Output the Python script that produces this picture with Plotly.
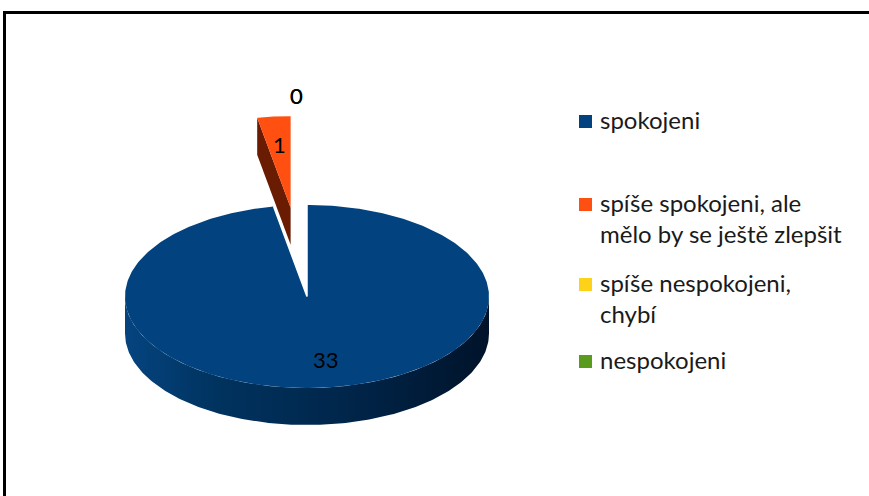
import numpy as np
import plotly.graph_objects as go

# ---- data ----
categories = ["spokojeni", "spíše spokojeni, ale mělo by se ještě zlepšit",
              "spíše nespokojeni, chybí", "nespokojeni"]
legend_labels = ["spokojeni", "spíše spokojeni, ale<br>mělo by se ještě zlepšit",
                 "spíše nespokojeni,<br>chybí", "nespokojeni"]
values = [33, 1, 0, 0]

# ---- style ----
top_colors = ["#02437F", "#FF5011", "#FFD21A", "#5A9B1E"]
wall_colors = ["#003A72", "#6A1C02", "#B08F00", "#3A6A12"]
explode = [0.0, 0.975, 0.0, 0.0]
label_r = [0.69, 0.69, 2.2, 2.2]
label_xshift = [7, 0, -11, -11]
DEPTH = 37 / 91.5
FONT = "Lato"
W, H = 869, 496
CX, CY, RX, RY = 307, 296.5, 182, 91.5  # pixel geometry of the pie

fig = go.Figure()

total = sum(values)
cum = np.cumsum([0] + values)
starts = 360.0 * cum[:-1] / total
ends = 360.0 * cum[1:] / total


def pt(theta_deg, ox=0.0, oy=0.0, r=1.0):
    t = np.radians(theta_deg)
    return ox + r * np.sin(t), oy + r * np.cos(t)


# back-to-front: exploded slices first (they sit at the back), then the big one
order = sorted(range(len(values)), key=lambda i: -explode[i])
for i in order:
    if values[i] <= 0:
        continue
    s, e = starts[i], ends[i]
    mid = (s + e) / 2
    ox, oy = pt(mid, r=explode[i])
    # front outer wall (visible part: 90..270 degrees)
    a0, a1 = max(s, 90), min(e, 270)
    if a1 > a0:
        th = np.linspace(a0, a1, 200)
        xs, ys = pt(th, ox, oy)
        wx = np.concatenate([xs, xs[::-1]])
        wy = np.concatenate([ys, ys[::-1] - DEPTH])
        fig.add_trace(go.Scatter(
            x=wx, y=wy, fill="toself", mode="lines", line=dict(width=0),
            fillcolor=wall_colors[i],
            fillgradient=dict(type="horizontal", colorscale=[
                [0, "#054480"], [0.25, "#00335f"], [0.6, "#00264b"], [1, "#00132a"]]),
            hoverinfo="skip", showlegend=False))
    # radial wall at the start edge (faces the viewer for the exploded slice)
    if explode[i] > 0:
        px, py = pt(s, ox, oy)
        fig.add_trace(go.Scatter(
            x=[ox, px, px, ox, ox], y=[oy, py, py - DEPTH, oy - DEPTH, oy],
            fill="toself", mode="lines", line=dict(width=0),
            fillcolor=wall_colors[i], hoverinfo="skip", showlegend=False))
    # top face
    th = np.linspace(s, e, 400)
    xs, ys = pt(th, ox, oy)
    fig.add_trace(go.Scatter(
        x=np.concatenate([[ox], xs, [ox]]), y=np.concatenate([[oy], ys, [oy]]),
        fill="toself", mode="lines", line=dict(width=0),
        fillcolor=top_colors[i], name=categories[i],
        hoverinfo="name", showlegend=False))
    if explode[i] == 0:
        p1 = pt(s, ox, oy)
        p2 = pt(e, ox, oy)
        fig.add_trace(go.Scatter(
            x=[p1[0], ox, p2[0]], y=[p1[1], oy, p2[1]], mode="lines",
            line=dict(color="white", width=1.5), hoverinfo="skip", showlegend=False))

# data labels
for i in range(len(values)):
    mid = (starts[i] + ends[i]) / 2
    ox, oy = pt(mid, r=explode[i])
    lx, ly = pt(mid, ox, oy, r=label_r[i])
    fig.add_annotation(x=lx, y=ly, text=str(values[i]), showarrow=False,
                       xshift=label_xshift[i],
                       font=dict(family=FONT, size=22, color="black"))

# legend (manual, to match the original spacing)
leg_y = [122, 205, 285, 362]
for i, lab in enumerate(legend_labels):
    yc = leg_y[i]
    fig.add_shape(type="rect", xref="paper", yref="paper",
                  x0=579 / W, x1=592 / W, y0=1 - (yc + 6) / H, y1=1 - (yc - 7) / H,
                  fillcolor=top_colors[i], line=dict(width=0))
    fig.add_annotation(xref="paper", yref="paper", x=598 / W, y=1 - (yc - 19) / H,
                       xanchor="left", yanchor="top", align="left", text=lab,
                       showarrow=False,
                       font=dict(family=FONT, size=24, color="#1a1a1a"))

# frame
fig.add_shape(type="rect", xref="paper", yref="paper",
              x0=4.5 / W, x1=1.05, y0=-0.05, y1=1 - 12.5 / H,
              line=dict(color="black", width=3), fillcolor="rgba(0,0,0,0)")

fig.update_layout(
    width=W, height=H, margin=dict(l=0, r=0, t=0, b=0),
    paper_bgcolor="white", plot_bgcolor="white",
    xaxis=dict(range=[-CX / RX, (W - CX) / RX], visible=False, fixedrange=True),
    yaxis=dict(range=[(CY - H) / RY, CY / RY], visible=False, fixedrange=True),
    showlegend=False,
)

fig.write_html("out.html", config={"displayModeBar": False},
               post_script="document.body.style.margin='0';")
